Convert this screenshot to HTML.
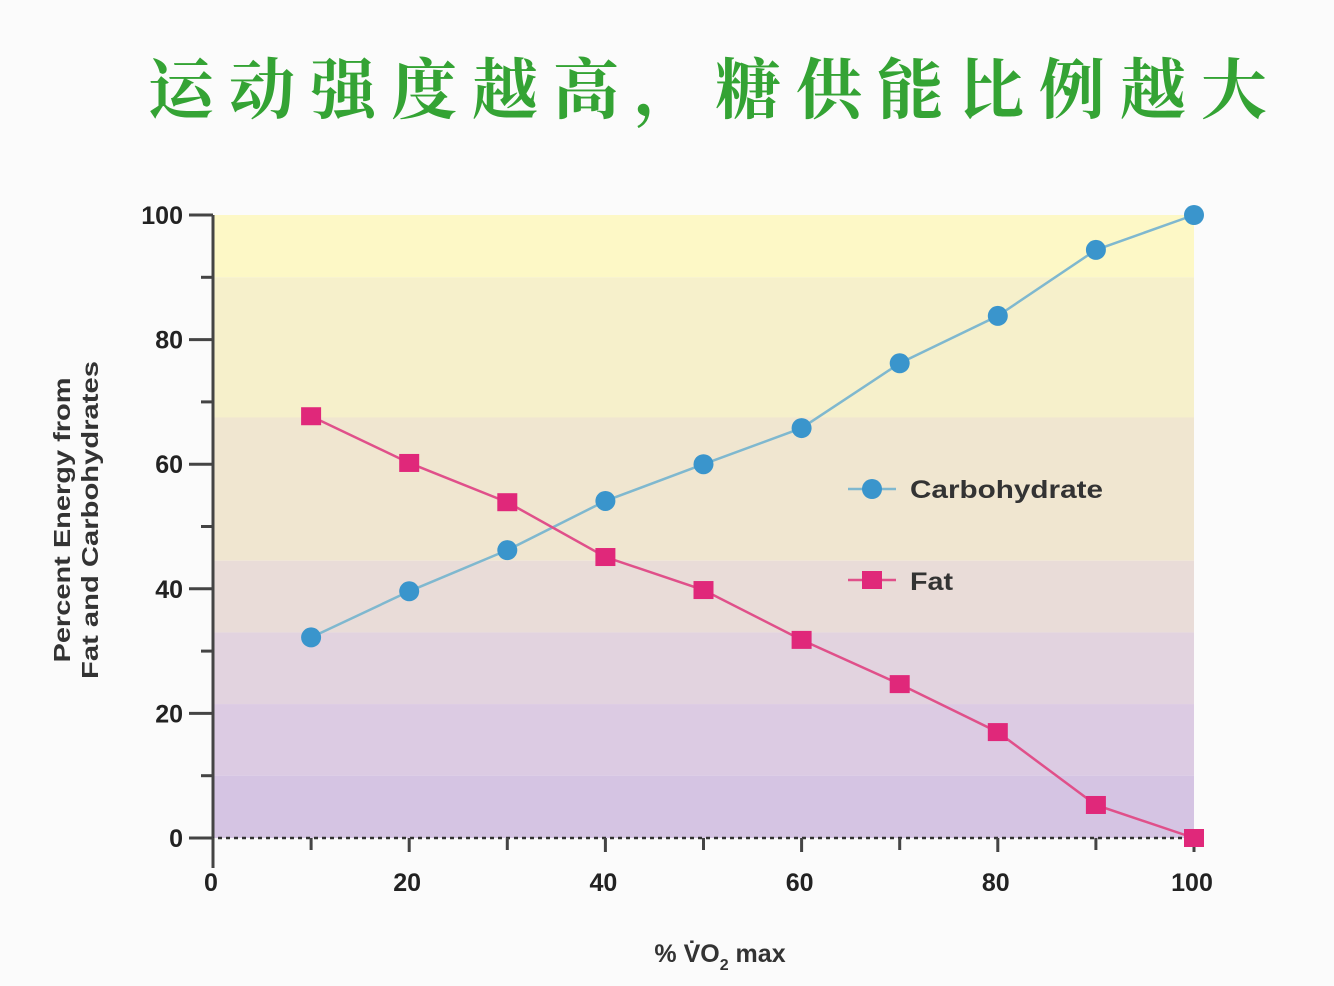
<!DOCTYPE html>
<html><head><meta charset="utf-8"><style>
body{margin:0;width:1334px;height:986px;background:#fbfbfb;overflow:hidden;font-family:"Liberation Sans",sans-serif}
#title{position:absolute;left:148px;top:52px;font-family:"Liberation Serif","Noto Serif CJK SC",serif;font-weight:bold;font-size:66px;letter-spacing:15px;color:#34a334;white-space:nowrap;line-height:80px}
svg{position:absolute;left:0;top:0}
</style></head><body>
<div id="title">运动强度越高，糖供能比例越大</div>
<svg id="chart" width="1334" height="986"></svg>
<script>
const xValues=[10,20,30,40,50,60,70,80,90,100];
const carbValues=[32.2,39.6,46.2,54.1,60,65.8,76.2,83.8,94.4,100];
const fatValues=[67.7,60.2,53.9,45.1,39.8,31.8,24.7,17,5.3,0];
const xTicks=[0,20,40,60,80,100];
const yTicks=[0,20,40,60,80,100];
const NS='http://www.w3.org/2000/svg';
const svg=document.getElementById('chart');
const X=v=>213+v*9.81, Y=v=>838-v*6.23;
function mk(t,a,p){const e=document.createElementNS(NS,t);for(const k in a)e.setAttribute(k,a[k]);(p||svg).appendChild(e);return e;}
const bands=[[100,90,'#fdf8c6'],[90,67.5,'#f6f0cb'],[67.5,44.5,'#f0e6d0'],[44.5,33,'#e9dcd8'],[33,21.5,'#e2d3df'],[21.5,10,'#dccbe3'],[10,0,'#d5c4e3']];
bands.forEach(b=>{const r=mk('rect',{x:X(0),y:Y(b[0]),width:X(100)-X(0),height:Y(b[1])-Y(b[0]),fill:b[2]});

});
const ax=mk('path',{d:`M${X(0)},${Y(100)}V${Y(0)+30}`,stroke:'#444',"stroke-width":3,fill:'none'});


const xa=mk('line',{x1:X(0)-3,y1:Y(0),x2:X(100),y2:Y(0),stroke:'#333',"stroke-width":2.5,"stroke-dasharray":'4 4'});


for(let v=0;v<=100;v+=10){const major=v%20===0;
const t=mk('line',{x1:X(0)-(major?24:12),y1:Y(v),x2:X(0),y2:Y(v),stroke:'#444',"stroke-width":3});


const u=mk('line',{x1:X(v),y1:Y(0),x2:X(v),y2:Y(0)+(major?14:12),stroke:'#444',"stroke-width":3});

}
yTicks.forEach(v=>{const t=mk('text',{x:X(0)-30,y:Y(v)+9,"text-anchor":'end',"font-size":25,"font-weight":'bold',fill:'#222'});t.textContent=v;

});
xTicks.forEach(v=>{const t=mk('text',{x:X(v)-2,y:Y(0)+53,"text-anchor":'middle',"font-size":25,"font-weight":'bold',fill:'#222'});t.textContent=v;

});
const yt=mk('text',{transform:'translate(70,520) rotate(-90)',"text-anchor":'middle',"font-size":23,"font-weight":'bold',fill:'#333'});
yt.innerHTML='<tspan x="0" dy="0" textLength="285" lengthAdjust="spacingAndGlyphs">Percent Energy from</tspan><tspan x="0" dy="28" textLength="318" lengthAdjust="spacingAndGlyphs">Fat and Carbohydrates</tspan>';


const xt=mk('text',{x:720,y:962,"text-anchor":'middle',"font-size":25,"font-weight":'bold',fill:'#333'});
xt.innerHTML='% V̇O<tspan font-size="16" dy="8">2</tspan><tspan dy="-8"> max</tspan>';


const cl=mk('polyline',{points:xValues.map((x,i)=>X(x)+','+Y(carbValues[i])).join(' '),fill:'none',stroke:'#7fb8cf',"stroke-width":2.5});


const fl=mk('polyline',{points:xValues.map((x,i)=>X(x)+','+Y(fatValues[i])).join(' '),fill:'none',stroke:'#e0508a',"stroke-width":2.5});


xValues.forEach((x,i)=>{const c=mk('circle',{cx:X(x),cy:Y(carbValues[i]),r:10,fill:'#3a95cc'});


const s=mk('rect',{x:X(x)-10,y:Y(fatValues[i])-9,width:20,height:18,fill:'#e0287a'});

});
const l1=mk('line',{x1:848,y1:489,x2:896,y2:489,stroke:'#7fb8cf',"stroke-width":2.5});


const c1=mk('circle',{cx:872,cy:489,r:10,fill:'#3a95cc'});


const t1=mk('text',{x:910,y:498,"font-size":25,"font-weight":'bold',fill:'#333',textLength:193,lengthAdjust:'spacingAndGlyphs'});t1.textContent='Carbohydrate';


const l2=mk('line',{x1:848,y1:580,x2:896,y2:580,stroke:'#e0508a',"stroke-width":2.5});


const s2=mk('rect',{x:862,y:571,width:20,height:18,fill:'#e0287a'});


const t2=mk('text',{x:910,y:590,"font-size":25,"font-weight":'bold',fill:'#333',textLength:43,lengthAdjust:'spacingAndGlyphs'});t2.textContent='Fat';


</script>
</body></html>
